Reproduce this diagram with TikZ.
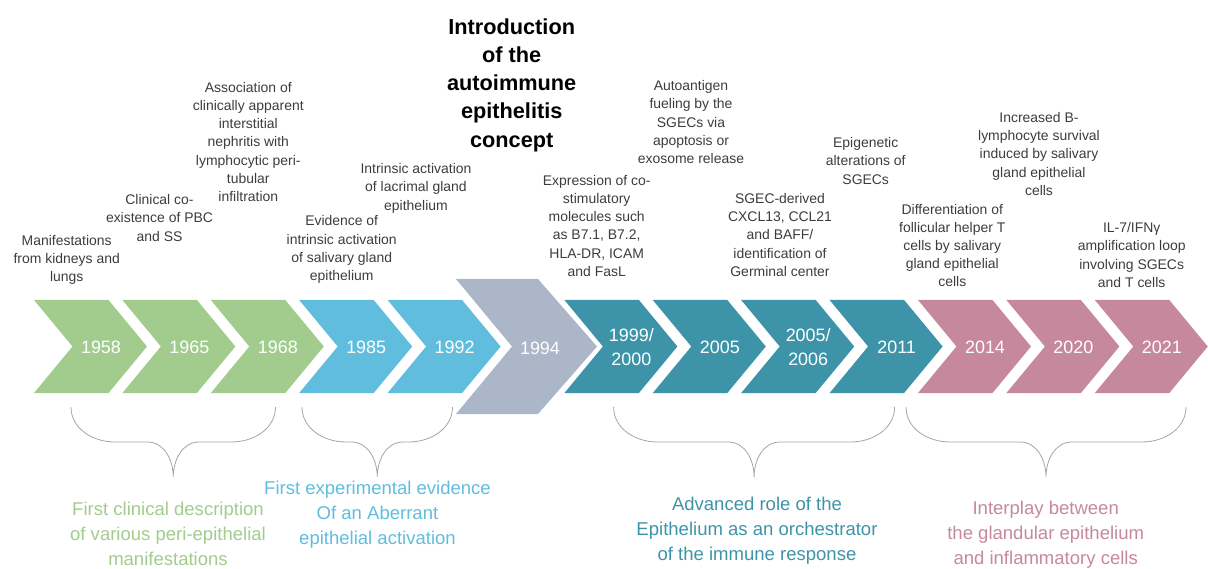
\documentclass[tikz,border=0pt]{standalone}
\usepackage{fontspec}
\setmainfont{Liberation Sans}
\usetikzlibrary{positioning}

\definecolor{clingreen}{RGB}{161,204,142}
\definecolor{expblue}{RGB}{96,189,222}
\definecolor{conceptgray}{RGB}{172,182,201}
\definecolor{roleteal}{RGB}{61,148,168}
\definecolor{interpink}{RGB}{197,136,157}
\definecolor{notegray}{RGB}{60,60,60}
\definecolor{bracegray}{RGB}{165,165,165}

\begin{document}
\begin{tikzpicture}[
    x=1bp, y=-1bp,
    note/.style={align=center, text=notegray, font=\fontsize{14}{18.3}\selectfont},
    year/.style={align=center, text=white, font=\fontsize{18}{24}\selectfont},
    phase/.style={align=center, font=\fontsize{18.6}{25}\selectfont},
    brace/.style={draw=bracegray, line width=0.8bp},
    chevron/.pic={
      \path[pic actions] (0,0) -- (74.5,0) -- (113,46.5) -- (74.5,93) -- (0,93)
        -- (38.5,46.5) -- cycle;
      \node[year] (-yr) at (67,47) {#1};
    },
    curly/.pic={
      \draw[brace] (0,0) to[out=-90,in=180] (44,35) -- (#1/2-26,35)
        to[out=0,in=90] (#1/2,70) to[out=90,in=180] (#1/2+26,35)
        -- (#1-44,35) to[out=0,in=-90] (#1,0);
    }
  ]
    \useasboundingbox (0,0) rectangle (1208,569);

    % timeline arrows
    \pic[fill=clingreen] (c58) at (34,300) {chevron=1958};
    \pic[fill=clingreen] (c65) at (122.4,300) {chevron=1965};
    \pic[fill=clingreen] (c68) at (210.8,300) {chevron=1968};
    \pic[fill=expblue] (c85) at (299.2,300) {chevron=1985};
    \pic[fill=expblue] (c92) at (387.6,300) {chevron=1992};
    \fill[conceptgray] (456,279) -- (538,279) -- (597,346.5) -- (538,414) -- (456,414)
      -- (512,346.5) -- cycle;
    \node[year] (c94-yr) at (540,348) {1994};
    \pic[fill=roleteal] (c99) at (564.4,300) {chevron={1999/\\2000}};
    \pic[fill=roleteal] (c05) at (652.8,300) {chevron=2005};
    \pic[fill=roleteal] (c06) at (741.2,300) {chevron={2005/\\2006}};
    \pic[fill=roleteal] (c11) at (829.6,300) {chevron=2011};
    \pic[fill=interpink] (c14) at (918,300) {chevron=2014};
    \pic[fill=interpink] (c20) at (1006.4,300) {chevron=2020};
    \pic[fill=interpink] (c21) at (1094.8,300) {chevron=2021};

    % events above the arrows
    \node[note] (n58) at (66.7,260) {Manifestations\\from kidneys and\\lungs};
    \node[note] (n65) at (159.5,218) {Clinical co-\\existence of PBC\\and SS};
    \node[note] (n68) at (248.3,142) {Association of\\clinically apparent\\interstitial\\
      nephritis with\\lymphocytic peri-\\tubular\\infiltration};
    \node[note] (n85) at (341.7,249.7) {Evidence of\\intrinsic activation\\
      of salivary gland\\epithelium};
    \node[note] (n92) at (416,188.3) {Intrinsic activation\\of lacrimal gland\\epithelium};
    \node[align=center, font=\bfseries\fontsize{21.8}{28.3}\selectfont] (intro)
      at (511.7,85) {Introduction\\of the\\autoimmune\\epithelitis\\concept};
    \node[note] (n99) at (596.7,225.8) {Expression of co-\\stimulatory\\molecules such\\
      as B7.1, B7.2,\\HLA-DR, ICAM\\and FasL};
    \node[note] (n05) at (691,122.2) {Autoantigen\\fueling by the\\SGECs via\\
      apoptosis or\\exosome release};
    \node[note] (n06) at (780,235) {SGEC-derived\\CXCL13, CCL21\\and BAFF/\\
      identification of\\Germinal center};
    \node[note] (n11) at (865.7,160.8) {Epigenetic\\alterations of\\SGECs};
    \node[note] (n14) at (952.3,245.5) {Differentiation of\\follicular helper T\\
      cells by salivary\\gland epithelial\\cells};
    \node[note] (n20) at (1039,153.8) {Increased B-\\lymphocyte survival\\
      induced by salivary\\gland epithelial\\cells};
    \node[note] (n21) at (1131.7,255) {IL-7/IFNγ\\amplification loop\\
      involving SGECs\\and T cells};

    % periods below
    \pic at (71,407) {curly=204.5};
    \pic at (302,407) {curly=150.5};
    \pic at (613.6,407) {curly=281};
    \pic at (906,407) {curly=280};

    \node[phase, text=clingreen] (p1) at (168,534) {First clinical description\\
      of various peri-epithelial\\manifestations};
    \node[phase, text=expblue] (p2) at (377.5,515) {First experimental evidence\\
      Of an Aberrant\\epithelial activation};
    \node[phase, text=roleteal] (p3) at (757,531) {Advanced role of the\\
      Epithelium as an orchestrator\\of the immune response};
    \node[phase, text=interpink] (p4) at (1045.7,535) {Interplay between\\
      the glandular epithelium\\and inflammatory cells};
  \end{tikzpicture}
\end{document}
